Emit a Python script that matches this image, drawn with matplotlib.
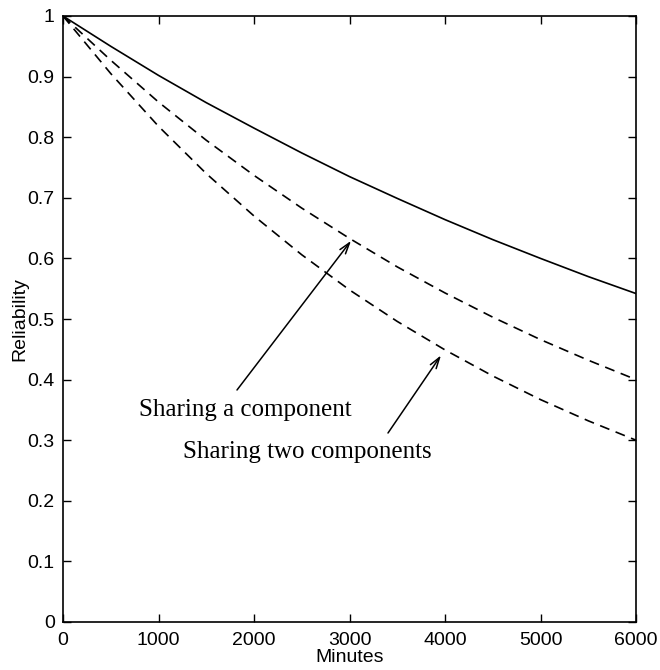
import matplotlib
matplotlib.use("Agg")
import matplotlib.pyplot as plt
from matplotlib.ticker import FixedLocator, FixedFormatter

minutes = [0, 500, 1000, 1500, 2000, 2500, 3000, 3500, 4000, 4500, 5000, 5500, 6000]
rel_independent = [1.0, 0.950, 0.902, 0.857, 0.815, 0.774, 0.735, 0.699, 0.664, 0.631, 0.600, 0.570, 0.542]
rel_share_one = [1.0, 0.927, 0.858, 0.795, 0.737, 0.683, 0.633, 0.586, 0.543, 0.503, 0.466, 0.432, 0.400]
rel_share_two = [1.0, 0.905, 0.818, 0.740, 0.670, 0.606, 0.548, 0.496, 0.449, 0.406, 0.367, 0.332, 0.300]

xticks = [0, 1000, 2000, 3000, 4000, 5000, 6000]
xticklabels = ["0", "1000", "2000", "3000", "4000", "5000", "6000"]
yticks = [0, 0.1, 0.2, 0.3, 0.4, 0.5, 0.6, 0.7, 0.8, 0.9, 1.0]
yticklabels = ["0", "0.1", "0.2", "0.3", "0.4", "0.5", "0.6", "0.7", "0.8", "0.9", "1"]

label_one = "Sharing a component"
label_two = "Sharing two components"

W, H = 660, 670
fig = plt.figure(figsize=(6.6, 6.7), dpi=100)
ax = fig.add_axes([63/W, 1-622/H, (636-63)/W, (622-16)/H])

sans = ["Liberation Sans", "DejaVu Sans"]
serif = ["Liberation Serif", "DejaVu Serif"]

ax.plot(minutes, rel_independent, color="black", lw=1.2)
ax.plot(minutes, rel_share_one, color="black", lw=1.2, dashes=(6, 4))
ax.plot(minutes, rel_share_two, color="black", lw=1.2, dashes=(6, 4))

ax.set_xlim(0, 6000)
ax.set_ylim(0, 1)
ax.xaxis.set_major_locator(FixedLocator(xticks))
ax.xaxis.set_major_formatter(FixedFormatter(xticklabels))
ax.yaxis.set_major_locator(FixedLocator(yticks))
ax.yaxis.set_major_formatter(FixedFormatter(yticklabels))
ax.tick_params(direction="in", top=True, right=True, length=6, width=1,
               labelsize=14, pad=6)
ax.tick_params(axis="x", pad=7)
for lab in ax.get_xticklabels() + ax.get_yticklabels():
    lab.set_family(sans)
for s in ax.spines.values():
    s.set_linewidth(1.2)

ax.set_xlabel("Minutes", family=sans, fontsize=14, labelpad=0)
ax.set_ylabel("Reliability", family=sans, fontsize=14, labelpad=-1)

def fig_to_data(px, py):
    disp = fig.transFigure.transform((px / W, 1 - py / H))
    return tuple(ax.transData.inverted().transform(disp))

ax.text(*fig_to_data(139, 410), label_one, fontsize=18, family=serif, ha="left", va="center")
ax.text(*fig_to_data(183, 452), label_two, fontsize=18, family=serif, ha="left", va="center")

t1 = fig_to_data(237, 390)
t2 = fig_to_data(388, 433)
style = "->,head_length=0.8,head_width=0.25"
ax.annotate("", xy=(3016, 0.629), xytext=t1,
            arrowprops=dict(arrowstyle=style, color="black", lw=1.1, shrinkA=0, shrinkB=0))
ax.annotate("", xy=(3958, 0.44), xytext=t2,
            arrowprops=dict(arrowstyle=style, color="black", lw=1.1, shrinkA=0, shrinkB=0))

fig.savefig("out.png", dpi=100)
